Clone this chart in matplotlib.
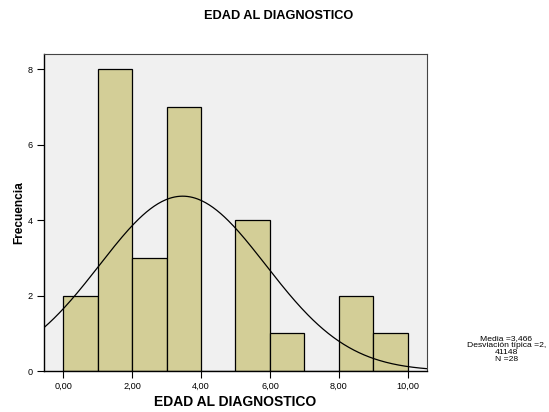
import numpy as np
import matplotlib.pyplot as plt

plt.rcParams['font.family'] = ['Liberation Sans', 'DejaVu Sans']

# Histogram data (bin edges of width 1)
bin_edges = [0, 1, 2, 3, 4, 5, 6, 7, 8, 9, 10]
counts = [2, 8, 3, 7, 0, 4, 1, 0, 2, 1]
media = 3.466
desv = 2.41148
n = 28
x_ticks = [0, 2, 4, 6, 8, 10]
x_labels = ['0,00', '2,00', '4,00', '6,00', '8,00', '10,00']
y_ticks = [0, 2, 4, 6, 8]

fig = plt.figure(figsize=(5.49, 4.12), dpi=100)
ax = fig.add_axes([0.0801, 0.0995, 0.6977, 0.7695])
ax.set_facecolor('#f0f0f0')

# bars
left = np.array(bin_edges[:-1])
widths = np.diff(bin_edges)
ax.bar(left, counts, width=widths, align='edge', color='#d3ce97',
       edgecolor='black', linewidth=0.9)

# normal curve
xmin, xmax = -0.56, 10.56
xs = np.linspace(xmin, xmax, 300)
ys = n * 1.0 / (desv * np.sqrt(2 * np.pi)) * np.exp(-0.5 * ((xs - media) / desv) ** 2)
ax.plot(xs, ys, color='black', linewidth=0.9)

ax.set_xlim(xmin, xmax)
ax.set_ylim(0, 8.4)
ax.set_xticks(x_ticks)
ax.set_xticklabels(x_labels)
ax.set_yticks(y_ticks)
ax.tick_params(labelsize=6.6, length=5, width=0.8, pad=3)

for s in ['left', 'bottom']:
    ax.spines[s].set_color('black')
    ax.spines[s].set_linewidth(1.0)
for s in ['top', 'right']:
    ax.spines[s].set_color('#444444')
    ax.spines[s].set_linewidth(0.8)

ax.set_xlabel('EDAD AL DIAGNOSTICO', fontsize=10, fontweight='bold', labelpad=3)
ax.set_ylabel('Frecuencia', fontsize=8.6, fontweight='bold')
ax.yaxis.set_label_coords(-0.049, 0.5)
fig.text(0.508, 0.962, 'EDAD AL DIAGNOSTICO', ha='center', va='center',
         fontsize=9.2, fontweight='bold')

fig.text(0.922, 0.152,
         'Media =3,466\nDesviación típica =2,\n41148\nN =28',
         ha='center', va='center', fontsize=6.1, linespacing=1.0)

fig.savefig('out.png', dpi=100)
